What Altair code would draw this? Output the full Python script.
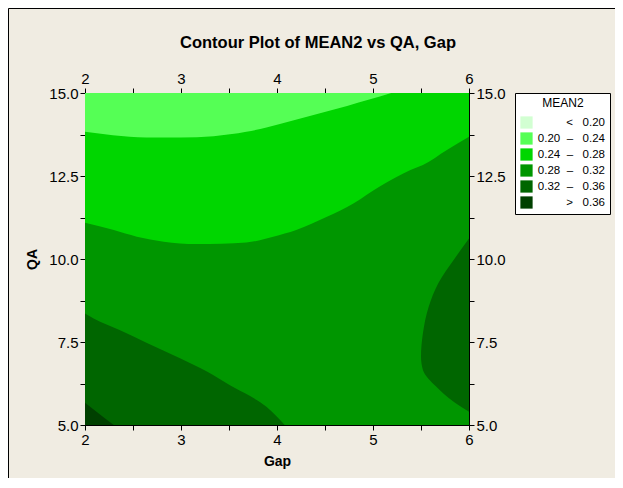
import altair as alt
import pandas as pd

FONT = "Liberation Sans, Arial, sans-serif"

# Legend bands and colours
band_labels = [
    "<\u00a0\u00a0\u00a00.20",
    "0.20\u00a0\u00a0\u2013\u00a0\u00a0\u00a00.24",
    "0.24\u00a0\u00a0\u2013\u00a0\u00a0\u00a00.28",
    "0.28\u00a0\u00a0\u2013\u00a0\u00a0\u00a00.32",
    "0.32\u00a0\u00a0\u2013\u00a0\u00a0\u00a00.36",
    ">\u00a0\u00a0\u00a00.36",
]
band_colors = ["#D2FFD2", "#55FF55", "#00D600", "#009600", "#006600", "#004000"]

# Contour boundaries (Gap, QA)
b1_gap = [2.0, 2.29, 2.64, 2.99, 3.34, 3.68, 3.89, 4.03, 4.38, 4.73, 4.97, 5.19]
b1_qa = [13.83, 13.73, 13.66, 13.66, 13.70, 13.83, 13.96, 14.07, 14.34, 14.61, 14.81, 15.0]

b2_gap = [2.0, 2.30, 2.54, 2.82, 3.16, 3.68, 3.96, 4.20, 4.52, 4.80, 5.07, 5.39, 5.52, 5.77, 6.0]
b2_qa = [11.09, 10.87, 10.67, 10.52, 10.45, 10.50, 10.67, 10.87, 11.27, 11.68, 12.18, 12.68, 12.83, 13.28, 13.68]

b3_gap = [2.0, 2.09, 2.36, 2.64, 2.99, 3.27, 3.51, 3.72, 3.89, 4.0, 4.08]
b3_qa = [8.36, 8.21, 7.86, 7.48, 7.01, 6.61, 6.20, 5.87, 5.55, 5.25, 5.0]

b4_gap = [2.0, 2.12, 2.30]
b4_qa = [5.67, 5.40, 5.0]

b5_qa = [10.62, 9.97, 9.27, 8.56, 7.76, 7.06, 6.66, 6.15, 5.70, 5.40]
b5_gap = [6.0, 5.84, 5.68, 5.58, 5.52, 5.50, 5.52, 5.66, 5.84, 6.0]

base_gap = [2.0, 6.0]
base_qa = [5.0, 5.0]

x_ticks = [2, 2.5, 3, 3.5, 4, 4.5, 5, 5.5, 6]
y_ticks = [5, 6.25, 7.5, 8.75, 10, 11.25, 12.5, 13.75, 15]

title_text = "Contour Plot of MEAN2 vs QA, Gap"


def frame(g, q, band):
    return pd.DataFrame({"Gap": g, "QA": q, "band": band})


xs = alt.Scale(domain=[2, 6], nice=False, zero=False)
ys = alt.Scale(domain=[5, 15], nice=False, zero=False)
cs = alt.Scale(domain=band_labels, range=band_colors)

x_lab = "datum.value % 1 == 0 ? format(datum.value, 'd') : ''"
y_lab = "datum.value % 2.5 == 0 ? format(datum.value, '.1f') : ''"

legend = alt.Legend(
    orient="none", legendX=430, legendY=0,
    title="\u00a0" * 7 + "MEAN2" + "\u00a0" * 7,
    titleAnchor="middle", titleAlign="center",
)
color = alt.Color("band:N", scale=cs, legend=legend)
color_nl = alt.Color("band:N", scale=cs, legend=None)

bottom_axis = alt.Axis(values=x_ticks, labelExpr=x_lab, title="Gap", orient="bottom",
                       labelOverlap=False, labelFlush=False, titlePadding=7)
left_axis = alt.Axis(values=y_ticks, labelExpr=y_lab, title="QA", orient="left",
                     labelOverlap=False, titlePadding=9)
top_axis = alt.Axis(values=x_ticks, labelExpr=x_lab, title=None, orient="top",
                    labelOverlap=False, labelFlush=False)
right_axis = alt.Axis(values=y_ticks, labelExpr=y_lab, title=None, orient="right",
                      labelOverlap=False)

base = alt.Chart(frame(base_gap, base_qa, band_labels[3])).mark_area(opacity=1, clip=True).encode(
    x=alt.X("Gap:Q", scale=xs, axis=bottom_axis),
    y=alt.Y("QA:Q", scale=ys, axis=left_axis),
    y2=alt.datum(15),
    color=color,
)

l2 = alt.Chart(frame(b2_gap, b2_qa, band_labels[2])).mark_area(
    opacity=1, clip=True, interpolate="monotone").encode(
    x=alt.X("Gap:Q", scale=xs, axis=top_axis),
    y=alt.Y("QA:Q", scale=ys, axis=right_axis),
    y2=alt.datum(15),
    color=color_nl,
)

l1 = alt.Chart(frame(b1_gap, b1_qa, band_labels[1])).mark_area(
    opacity=1, clip=True, interpolate="monotone").encode(
    x=alt.X("Gap:Q", scale=xs, axis=None),
    y=alt.Y("QA:Q", scale=ys, axis=None),
    y2=alt.datum(15),
    color=color_nl,
)

l3 = alt.Chart(frame(b3_gap, b3_qa, band_labels[4])).mark_area(
    opacity=1, clip=True, interpolate="monotone").encode(
    x=alt.X("Gap:Q", scale=xs, axis=None),
    y=alt.Y("QA:Q", scale=ys, axis=None),
    y2=alt.datum(5),
    color=color_nl,
)

l4 = alt.Chart(frame(b4_gap, b4_qa, band_labels[5])).mark_area(
    opacity=1, clip=True, interpolate="monotone").encode(
    x=alt.X("Gap:Q", scale=xs, axis=None),
    y=alt.Y("QA:Q", scale=ys, axis=None),
    y2=alt.datum(5),
    color=color_nl,
)

l5 = alt.Chart(frame(b5_gap, b5_qa, band_labels[4])).mark_area(
    opacity=1, clip=True, interpolate="monotone", orient="horizontal").encode(
    y=alt.Y("QA:Q", scale=ys, axis=None),
    x=alt.X("Gap:Q", scale=xs, axis=None),
    x2=alt.datum(6),
    color=color_nl,
)

title = alt.Chart(pd.DataFrame({"t": [title_text]})).mark_text(
    font=FONT, fontSize=16.5, fontWeight="bold", color="black",
    align="center", baseline="alphabetic", clip=False,
).encode(
    x=alt.value(233), y=alt.value(-45.3), text="t:N",
)

frame_df = pd.DataFrame({"a": [0]})
left_line = alt.Chart(frame_df).mark_rule(color="black", strokeWidth=1, clip=False).encode(
    x=alt.value(-76.5), y=alt.value(-84.5), y2=alt.value(400),
)
top_line = alt.Chart(frame_df).mark_rule(color="black", strokeWidth=1, clip=False).encode(
    x=alt.value(-76.5), x2=alt.value(540), y=alt.value(-84.5),
)

chart = alt.layer(base, l2, l1, l3, l4, l5, title, left_line, top_line).resolve_axis(
    x="independent", y="independent"
).properties(
    width=384, height=332,
    autosize=alt.AutoSizeParams(type="none"),
    padding={"left": 77, "top": 85, "right": 146, "bottom": 53},
).configure(
    background="#F0ECE2",
).configure_view(
    stroke="black", strokeWidth=1,
).configure_axis(
    labelFont=FONT, labelFontSize=15, labelColor="black",
    titleFont=FONT, titleFontSize=14, titleFontWeight="bold", titleColor="black",
    domainColor="black", tickColor="black", tickSize=5, grid=False,
    labelPadding=2,
).configure_legend(
    fillColor="white", strokeColor="black", padding=5,
    symbolType="square", symbolSize=150, symbolStrokeWidth=0, symbolOpacity=1,
    labelFont=FONT, labelFontSize=11.5, labelColor="black",
    titleFont=FONT, titleFontSize=12, titleFontWeight="normal", titleColor="black",
    rowPadding=3, labelAlign="right", labelOffset=72, titlePadding=6,
)

chart.save("out.html", embed_options={"renderer": "svg", "actions": False})
